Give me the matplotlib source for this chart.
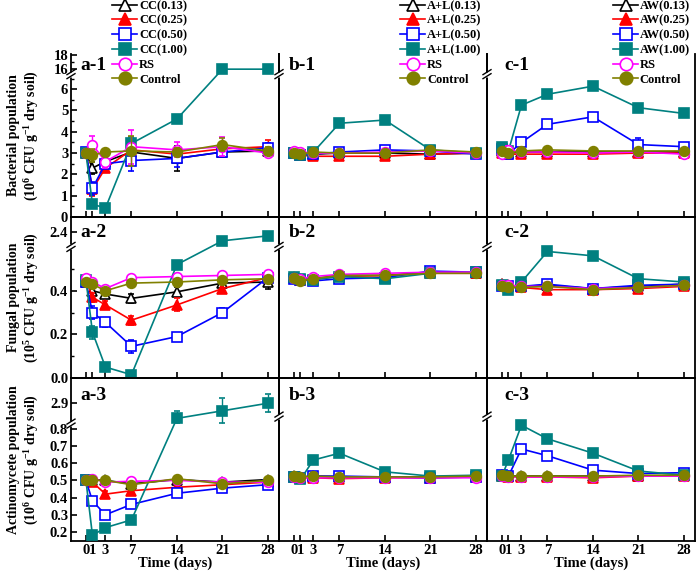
import numpy as np
import matplotlib
matplotlib.use('Agg')
import matplotlib.pyplot as plt
from matplotlib.lines import Line2D

plt.rcParams['font.family'] = ['Liberation Serif', 'DejaVu Serif']
plt.rcParams['font.weight'] = 'bold'
plt.rcParams['mathtext.fontset'] = 'custom'
plt.rcParams['mathtext.rm'] = 'Liberation Serif:bold'
plt.rcParams['mathtext.it'] = 'Liberation Serif:bold:italic'
plt.rcParams['mathtext.bf'] = 'Liberation Serif:bold'

# ---------------- data ----------------
DAYS = [0, 1, 3, 7, 14, 21, 28]
DAY_LABELS = ['0', '1', '3', '7', '14', '21', '28']

LEG_A = ['CC(0.13)', 'CC(0.25)', 'CC(0.50)', 'CC(1.00)', 'RS', 'Control']
LEG_B = ['A+L(0.13)', 'A+L(0.25)', 'A+L(0.50)', 'A+L(1.00)', 'RS', 'Control']
LEG_C = ['AW(0.13)', 'AW(0.25)', 'AW(0.50)', 'AW(1.00)', 'RS', 'Control']

# Bacterial population (10^6 CFU/g)
A1 = [[3.0, 2.3, 2.6, 3.05, 2.75, 3.05, 3.1],
      [3.0, 1.3, 2.3, 3.15, 2.95, 3.2, 3.3],
      [3.05, 1.35, 2.5, 2.65, 2.75, 3.05, 3.25],
      [3.0, 0.6, 0.42, 3.45, 4.6, 16.0, 16.0],
      [3.0, 3.4, 2.6, 3.3, 3.15, 3.3, 3.0],
      [3.0, 2.9, 3.05, 3.1, 3.05, 3.4, 3.1]]
A1_ERR = [[0.1, 0.3, 0.2, 0.2, 0.6, 0.2, 0.2],
          [0.15, 0.3, 0.2, 0.3, 0.3, 0.3, 0.3],
          [0.1, 0.3, 0.2, 0.5, 0.4, 0.2, 0.2],
          [0.1, 0.1, 0.1, 0.3, 0.1, 0.3, 0.3],
          [0.1, 0.4, 0.3, 0.8, 0.35, 0.45, 0.15],
          [0.1, 0.3, 0.15, 0.7, 0.2, 0.3, 0.2]]
B1 = [[3.0, 2.95, 2.95, 3.0, 3.0, 2.95, 3.0],
      [3.0, 2.9, 2.85, 2.85, 2.85, 2.95, 3.0],
      [3.0, 2.9, 2.95, 3.05, 3.15, 3.1, 2.95],
      [3.0, 2.9, 3.05, 4.4, 4.55, 3.15, 3.0],
      [3.1, 3.05, 3.0, 3.0, 3.05, 3.1, 3.0],
      [3.0, 2.95, 3.05, 3.0, 3.0, 3.15, 3.05]]
B1_ERR = [[0.1, 0.1, 0.1, 0.1, 0.1, 0.15, 0.1],
          [0.1, 0.1, 0.1, 0.15, 0.15, 0.1, 0.1],
          [0.1, 0.1, 0.1, 0.1, 0.1, 0.1, 0.1],
          [0.1, 0.1, 0.1, 0.1, 0.1, 0.1, 0.1],
          [0.15, 0.15, 0.1, 0.1, 0.1, 0.1, 0.1],
          [0.1, 0.1, 0.1, 0.15, 0.1, 0.1, 0.1]]
C1 = [[3.1, 3.0, 3.05, 3.05, 3.05, 3.05, 3.05],
      [3.0, 2.95, 2.95, 2.95, 2.95, 3.0, 3.0],
      [3.2, 2.95, 3.5, 4.35, 4.7, 3.4, 3.3],
      [3.3, 3.1, 5.25, 5.76, 6.14, 5.13, 4.86],
      [2.95, 3.15, 3.05, 3.05, 3.0, 3.05, 2.95],
      [3.1, 3.0, 3.1, 3.15, 3.1, 3.1, 3.1]]
C1_ERR = [[0.1, 0.1, 0.1, 0.1, 0.1, 0.1, 0.1],
          [0.1, 0.1, 0.15, 0.15, 0.15, 0.1, 0.1],
          [0.1, 0.1, 0.1, 0.15, 0.15, 0.3, 0.1],
          [0.1, 0.1, 0.1, 0.1, 0.1, 0.15, 0.15],
          [0.1, 0.2, 0.1, 0.1, 0.1, 0.1, 0.1],
          [0.1, 0.1, 0.1, 0.1, 0.15, 0.15, 0.1]]

# Fungal population (10^5 CFU/g)
A2 = [[0.44, 0.40, 0.385, 0.365, 0.395, 0.435, 0.44],
      [0.45, 0.37, 0.335, 0.265, 0.335, 0.41, 0.46],
      [0.44, 0.30, 0.255, 0.145, 0.19, 0.30, 0.46],
      [0.45, 0.21, 0.05, 0.015, 0.52, 2.31, 2.36],
      [0.46, 0.44, 0.41, 0.46, 0.465, 0.47, 0.475],
      [0.44, 0.43, 0.40, 0.435, 0.44, 0.45, 0.455]]
A2_ERR = [[0.01, 0.02, 0.02, 0.02, 0.02, 0.02, 0.03],
          [0.01, 0.02, 0.02, 0.02, 0.03, 0.02, 0.02],
          [0.01, 0.03, 0.02, 0.03, 0.01, 0.02, 0.02],
          [0.01, 0.03, 0.01, 0.01, 0.01, 0.01, 0.01],
          [0.01, 0.01, 0.01, 0.01, 0.01, 0.01, 0.01],
          [0.01, 0.01, 0.01, 0.01, 0.01, 0.01, 0.01]]
B2 = [[0.46, 0.455, 0.455, 0.47, 0.47, 0.485, 0.48],
      [0.465, 0.45, 0.455, 0.465, 0.47, 0.48, 0.48],
      [0.455, 0.45, 0.445, 0.455, 0.46, 0.49, 0.485],
      [0.465, 0.455, 0.45, 0.465, 0.455, 0.48, 0.485],
      [0.46, 0.455, 0.465, 0.475, 0.48, 0.485, 0.485],
      [0.46, 0.445, 0.455, 0.47, 0.47, 0.48, 0.48]]
B2_ERR = [[0.01, 0.01, 0.01, 0.01, 0.01, 0.015, 0.01],
          [0.01, 0.01, 0.01, 0.015, 0.01, 0.01, 0.015],
          [0.01, 0.01, 0.01, 0.01, 0.01, 0.01, 0.01],
          [0.01, 0.01, 0.01, 0.01, 0.01, 0.01, 0.01],
          [0.01, 0.01, 0.01, 0.01, 0.01, 0.01, 0.01],
          [0.01, 0.01, 0.01, 0.01, 0.01, 0.01, 0.01]]
C2 = [[0.43, 0.425, 0.42, 0.425, 0.41, 0.42, 0.43],
      [0.43, 0.415, 0.415, 0.405, 0.405, 0.41, 0.42],
      [0.42, 0.42, 0.42, 0.43, 0.41, 0.425, 0.43],
      [0.425, 0.405, 0.44, 0.58, 0.56, 0.455, 0.44],
      [0.425, 0.425, 0.42, 0.42, 0.41, 0.415, 0.425],
      [0.42, 0.415, 0.415, 0.42, 0.405, 0.415, 0.425]]
C2_ERR = [[0.01, 0.015, 0.01, 0.01, 0.01, 0.01, 0.01],
          [0.01, 0.01, 0.01, 0.015, 0.01, 0.015, 0.01],
          [0.01, 0.01, 0.01, 0.015, 0.01, 0.01, 0.01],
          [0.01, 0.01, 0.01, 0.01, 0.01, 0.01, 0.01],
          [0.01, 0.01, 0.01, 0.01, 0.01, 0.01, 0.01],
          [0.01, 0.01, 0.01, 0.01, 0.01, 0.01, 0.01]]

# Actinomycete population (10^6 CFU/g)
A3 = [[0.50, 0.505, 0.50, 0.48, 0.505, 0.49, 0.505],
      [0.50, 0.49, 0.42, 0.44, 0.46, 0.475, 0.49],
      [0.50, 0.38, 0.30, 0.36, 0.425, 0.455, 0.475],
      [0.50, 0.18, 0.225, 0.27, 2.84, 2.87, 2.90],
      [0.50, 0.51, 0.49, 0.495, 0.50, 0.49, 0.49],
      [0.50, 0.50, 0.50, 0.475, 0.51, 0.48, 0.50]]
A3_ERR = [[0.01, 0.01, 0.01, 0.02, 0.01, 0.01, 0.01],
          [0.01, 0.02, 0.02, 0.02, 0.02, 0.02, 0.01],
          [0.01, 0.02, 0.02, 0.02, 0.02, 0.01, 0.01],
          [0.01, 0.01, 0.01, 0.01, 0.03, 0.05, 0.035],
          [0.01, 0.01, 0.01, 0.01, 0.01, 0.01, 0.01],
          [0.01, 0.01, 0.01, 0.01, 0.01, 0.01, 0.01]]
B3 = [[0.53, 0.525, 0.53, 0.525, 0.525, 0.525, 0.53],
      [0.525, 0.52, 0.52, 0.515, 0.52, 0.52, 0.525],
      [0.525, 0.52, 0.53, 0.53, 0.525, 0.52, 0.525],
      [0.525, 0.51, 0.625, 0.665, 0.555, 0.53, 0.535],
      [0.525, 0.52, 0.52, 0.52, 0.52, 0.52, 0.52],
      [0.53, 0.525, 0.53, 0.525, 0.525, 0.525, 0.53]]
B3_ERR = [[0.01, 0.01, 0.01, 0.01, 0.01, 0.01, 0.01],
          [0.01, 0.01, 0.01, 0.015, 0.01, 0.01, 0.01],
          [0.01, 0.01, 0.01, 0.01, 0.01, 0.01, 0.01],
          [0.01, 0.01, 0.01, 0.01, 0.01, 0.01, 0.01],
          [0.01, 0.01, 0.01, 0.01, 0.01, 0.01, 0.01],
          [0.01, 0.01, 0.01, 0.01, 0.01, 0.01, 0.01]]
C3 = [[0.535, 0.53, 0.53, 0.53, 0.53, 0.53, 0.535],
      [0.53, 0.525, 0.525, 0.525, 0.52, 0.53, 0.53],
      [0.535, 0.53, 0.69, 0.65, 0.565, 0.545, 0.55],
      [0.53, 0.625, 0.83, 0.75, 0.665, 0.56, 0.535],
      [0.53, 0.525, 0.525, 0.525, 0.525, 0.53, 0.53],
      [0.535, 0.53, 0.53, 0.53, 0.53, 0.535, 0.535]]
C3_ERR = [[0.01, 0.01, 0.01, 0.01, 0.01, 0.01, 0.01],
          [0.01, 0.01, 0.01, 0.01, 0.01, 0.01, 0.01],
          [0.01, 0.01, 0.01, 0.01, 0.01, 0.01, 0.01],
          [0.01, 0.01, 0.01, 0.01, 0.01, 0.01, 0.01],
          [0.01, 0.01, 0.01, 0.01, 0.01, 0.01, 0.01],
          [0.01, 0.01, 0.01, 0.01, 0.01, 0.01, 0.01]]

PANELS = [[(A1, A1_ERR), (B1, B1_ERR), (C1, C1_ERR)],
          [(A2, A2_ERR), (B2, B2_ERR), (C2, C2_ERR)],
          [(A3, A3_ERR), (B3, B3_ERR), (C3, C3_ERR)]]
PANEL_NAMES = [['a-1', 'b-1', 'c-1'], ['a-2', 'b-2', 'c-2'], ['a-3', 'b-3', 'c-3']]
LEGENDS = [LEG_A, LEG_B, LEG_C]

YLABELS = ['Bacterial population\n(10$^{6}$ CFU g$^{-1}$ dry soil)',
           'Fungal population\n(10$^{5}$ CFU g$^{-1}$ dry soil)',
           'Actinomycete population\n(10$^{6}$ CFU g$^{-1}$ dry soil)']

# ---------------- styles ----------------
COLORS = ['black', '#FF0000', '#0000FF', '#008080', '#FF00FF', '#808000']
MARKERS = ['^', '^', 's', 's', 'o', 'o']
FACES = ['white', '#FF0000', 'white', '#008080', 'white', '#808000']

# broken y-axis configuration per row: (ylo, yhi, break_lo, break_hi, ratio)
ROW_SCALE = [
    [(0, 18.17, 6.7, 15.3, 0.328)] * 3,
    [(0, 2.55, 0.60, 2.25, 0.4545)] * 3,
    [(0.147, 3.0, 0.83, 2.82, 1.47), (0.147, 3.0, 0.88, 2.82, 1.26), (0.147, 3.0, 0.88, 2.82, 1.26)],
]
ROW_MAJOR = [[0, 1, 2, 3, 4, 5, 6, 16, 18],
             [0.0, 0.2, 0.4, 2.4],
             [0.2, 0.3, 0.4, 0.5, 0.6, 0.7, 0.8, 2.9]]
ROW_MAJOR_LBL = [['0', '1', '2', '3', '4', '5', '6', '16', '18'],
                 ['0.0', '0.2', '0.4', '2.4'],
                 ['0.2', '0.3', '0.4', '0.5', '0.6', '0.7', '0.8', '2.9']]
ROW_MINOR = [[0.5, 1.5, 2.5, 3.5, 4.5, 5.5, 6.5, 17],
             [0.1, 0.3, 0.5],
             []]


def broken(b0, b1, r, eps=1e-3):
    g = b0 + (b1 - b0) * eps

    def fwd(v):
        v = np.asarray(v, dtype=float)
        return np.where(v <= b0, v, np.where(v >= b1, g + (v - b1) * r, b0 + (v - b0) * eps))

    def inv(u):
        u = np.asarray(u, dtype=float)
        return np.where(u <= b0, u, np.where(u >= g, b1 + (u - g) / r, b0 + (u - b0) / eps))
    return fwd, inv


W, H = 700, 575
fig = plt.figure(figsize=(7, 5.75), dpi=100)

col_left = [71, 279, 487]
col_w = 208
row_top = [54, 217, 378]
row_h = [163, 161, 163]
label_dx = [9, 10, 17]
label_dy = [11, 16, 18]

for r in range(3):
    for c in range(3):
        left = col_left[c] / W
        bottom = 1 - (row_top[r] + row_h[r]) / H
        ax = fig.add_axes([left, bottom, col_w / W, row_h[r] / H])
        ax.set_facecolor('none')
        ylo, yhi, b0, b1, ratio = ROW_SCALE[r][c]
        fwd, inv = broken(b0, b1, ratio)
        ax.set_yscale('function', functions=(fwd, inv))
        vals, errs = PANELS[r][c]
        for i in range(6):
            ax.errorbar(DAYS, vals[i], yerr=errs[i], color=COLORS[i], marker=MARKERS[i],
                        mfc=FACES[i], mec=COLORS[i], ms=7, mew=1.2, lw=1.2,
                        elinewidth=1.0, capsize=2.2, capthick=1.0, zorder=3 + i)
        ax.set_xlim(-2.3, 29.7)
        ax.set_ylim(ylo, yhi)
        ax.set_xticks(DAYS)
        if r == 2:
            ax.set_xticklabels(DAY_LABELS)
            ax.set_xlabel('Time (days)', fontsize=10.5, fontweight='bold', labelpad=0)
        else:
            ax.set_xticklabels([])
        if c == 0:
            ax.set_yticks(ROW_MAJOR[r])
            ax.set_yticklabels(ROW_MAJOR_LBL[r])
            ax.set_yticks(ROW_MINOR[r], minor=True)
            ax.set_ylabel(YLABELS[r], fontsize=10, fontweight='bold', linespacing=1.2)
            ax.yaxis.set_label_coords(-0.145, 0.5)
        else:
            ax.set_yticks([])
            ax.set_yticks([], minor=True)
        ax.xaxis.set_minor_locator(matplotlib.ticker.NullLocator())
        ax.tick_params(axis='both', which='major', direction='in', length=4, width=1.2,
                       labelsize=10.5, pad=2)
        ax.tick_params(axis='y', which='minor', direction='in', length=2, width=1.0)
        for s in ax.spines.values():
            s.set_linewidth(1.3)
        if r == 0:
            ax.spines['top'].set_visible(False)
        # break marks on the left spine
        fb = (fwd(b0 + (b1 - b0) * 0.5) - fwd(ylo)) / (fwd(yhi) - fwd(ylo))
        fb = float(fb)
        ph = row_h[r]
        ax.plot([0, 0], [fb - 2.5 / ph, fb + 2.5 / ph], transform=ax.transAxes,
                color='white', lw=2.5, clip_on=False, zorder=20, solid_capstyle='butt')
        for off in (-2.0, 2.0):
            ax.plot([-4 / col_w, 4 / col_w], [fb + (off - 2.5) / ph, fb + (off + 2.5) / ph],
                    transform=ax.transAxes, color='black', lw=1.0, clip_on=False, zorder=21)
        fig.text((col_left[c] + label_dx[c]) / W, 1 - (row_top[r] + label_dy[r]) / H,
                 PANEL_NAMES[r][c], fontsize=14, fontweight='bold', ha='left', va='center')

# legends
leg_x = [112, 400, 613]
for c in range(3):
    handles = [Line2D([], [], color=COLORS[i], marker=MARKERS[i], mfc=FACES[i], mec=COLORS[i],
                      ms=9, mew=1.2, lw=1.2) for i in range(6)]
    fig.legend(handles, LEGENDS[c], loc='upper left', bbox_to_anchor=(leg_x[c] / W, 1.0),
               frameon=False, prop={'size': 9, 'weight': 'bold'}, handlelength=2.0,
               handletextpad=0.15, labelspacing=0.22, borderpad=0.0, borderaxespad=0)

fig.savefig('out.png', dpi=100)
